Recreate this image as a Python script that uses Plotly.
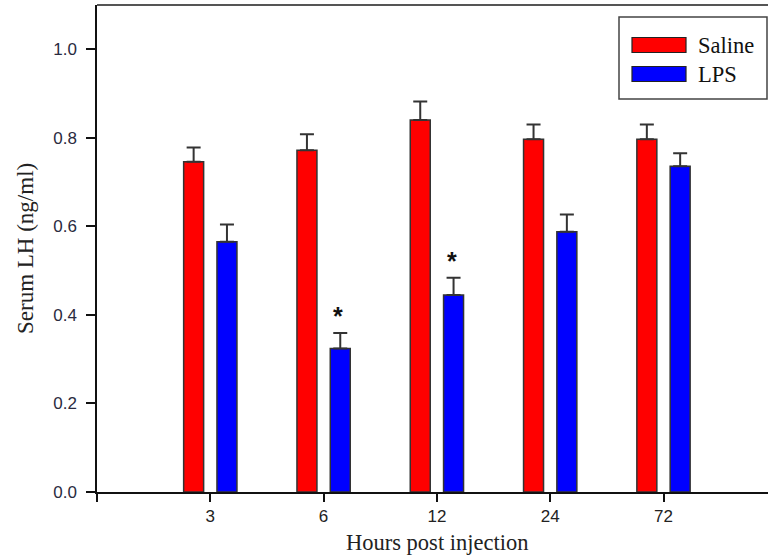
import plotly.graph_objects as go

# Serum LH after saline or LPS injection
hours = ["3", "6", "12", "24", "72"]
saline = [0.746, 0.772, 0.840, 0.797, 0.797]
saline_err = [0.032, 0.036, 0.042, 0.033, 0.033]
lps = [0.565, 0.324, 0.445, 0.588, 0.736]
lps_err = [0.039, 0.035, 0.039, 0.039, 0.029]
significant = [False, True, True, False, False]

y_ticks = [0.0, 0.2, 0.4, 0.6, 0.8, 1.0]

W, H = 768, 555
ML, MR, MT, MB = 97, 0, 5, 63
PW, PH = W - ML - MR, H - MT - MB


def px(x):
    return (x - ML) / PW


def py(y):
    return (H - MB - y) / PH


xpos = list(range(1, len(hours) + 1))
edge = "#333333"
serif = "Liberation Serif, Times New Roman, serif"
sans = "Liberation Sans, Arial, sans-serif"

fig = go.Figure()
for name, vals, errs, color in [("Saline", saline, saline_err, "#FF0000"),
                                ("LPS", lps, lps_err, "#0000FF")]:
    fig.add_trace(go.Bar(
        x=xpos, y=vals, name=name,
        marker=dict(color=color, line=dict(color=edge, width=1.5)),
        error_y=dict(type="data", array=errs, arrayminus=[0] * len(errs),
                     symmetric=False, color=edge, thickness=2, width=7),
        showlegend=False,
    ))

annotations = []
# significance markers above the LPS bars
for i, flag in enumerate(significant):
    if flag:
        annotations.append(dict(
            x=xpos[i] + 0.147, y=lps[i] + lps_err[i], xref="x", yref="y",
            text="<b>*</b>", showarrow=False, yanchor="bottom",
            yshift=1, xshift=-2,
            font=dict(family=sans, size=25, color="#111")))

# axis titles
annotations.append(dict(
    x=3.0, xref="x", y=py(542), yref="paper", text="Hours post injection",
    xanchor="center", yanchor="middle",
    showarrow=False, font=dict(family=serif, size=22.5, color="#222")))
annotations.append(dict(
    x=px(25), xref="paper", y=py(249), yref="paper", text="Serum LH (ng/ml)",
    xanchor="center", yanchor="middle",
    textangle=-90, showarrow=False, font=dict(family=serif, size=23, color="#222")))

# legend
shapes = [
    dict(type="line", xref="paper", yref="paper", x0=0, x1=1, y0=1, y1=1,
         line=dict(color="#555", width=2)),
    dict(type="rect", xref="paper", yref="paper", x0=px(619), x1=px(767),
         y0=py(99), y1=py(17), line=dict(color="#444", width=1.5),
         fillcolor="white"),
]
for label, color, yc in [("Saline", "#FF0000", 45), ("LPS", "#0000FF", 74)]:
    shapes.append(dict(type="rect", xref="paper", yref="paper",
                       x0=px(632), x1=px(686), y0=py(yc + 7.5), y1=py(yc - 7.5),
                       line=dict(color="#222", width=1.2), fillcolor=color))
    annotations.append(dict(
        x=px(696), xref="paper", y=py(yc), yref="paper", text=label,
        xanchor="left", yanchor="middle", showarrow=False,
        font=dict(family=serif, size=22.5, color="#111")))

fig.update_layout(
    width=W, height=H,
    margin=dict(l=ML, r=MR, t=MT, b=MB, pad=0),
    paper_bgcolor="white", plot_bgcolor="white",
    barmode="group", bargap=0.412, bargroupgap=0.4,
    annotations=annotations, shapes=shapes,
    xaxis=dict(
        range=[0, PW / 113.3], tickmode="array",
        tickvals=[0] + xpos, ticktext=[""] + hours,
        showline=True, linecolor="#111", linewidth=1.5,
        ticks="outside", ticklen=8, tickwidth=1.5, tickcolor="#111",
        showgrid=False, zeroline=False,
        tickfont=dict(family=sans, size=17, color="#222"),
    ),
    yaxis=dict(
        range=[0, 1.1], tickmode="array", tickvals=y_ticks, tickformat=".1f",
        showline=True, linecolor="#111", linewidth=1.5,
        ticks="outside", ticklen=9, tickwidth=1.5, tickcolor="#111",
        showgrid=False, zeroline=False, ticklabelstandoff=6,
        tickfont=dict(family=sans, size=17, color="#2a2a40"),
    ),
)

fig.write_html("out.html")
